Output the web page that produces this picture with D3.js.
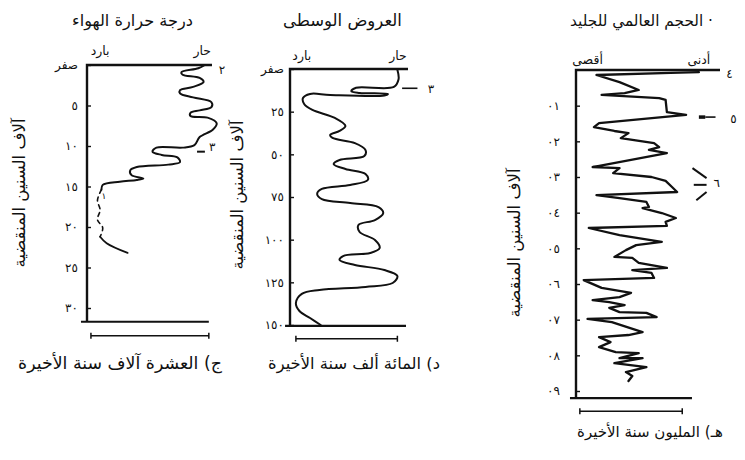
<!DOCTYPE html>
<html>
<head>
<meta charset="utf-8">
<script src="https://cdn.jsdelivr.net/npm/d3@7"></script>
<style>
  body { margin: 0; background: #fff; }
  svg { font-family: "DejaVu Sans", sans-serif; }
</style>
</head>
<body>
<svg id="chart" width="745" height="460"></svg>
<script>
// c) air temperature, last ten thousand years (age in thousand years, level 0 = cold, 100 = warm)
let tempTicks = [0, 5, 10, 15, 20, 25, 30];
let tempTickLabels = ["صفر", "٥", "١٠", "١٥", "٢٠", "٢٥", "٣٠"];
let tempAge = [0, 0.4, 0.9, 1.2, 1.6, 2.1, 2.7, 3.1, 3.5, 4.0, 4.6, 5.2, 5.6, 5.9, 6.3, 6.5, 7.2, 8.0, 8.9, 9.9,
  10.2, 10.2, 10.7, 11.1, 11.4, 12.0, 12.3, 12.6, 13.0, 13.6, 14.0, 14.2, 14.4, 14.8, 15.4];
let tempLevel = [90, 85, 72, 73, 86, 89, 81, 71, 71, 81, 95, 95, 86, 79, 79, 92, 99, 96, 86, 82,
  73, 53, 50, 57, 69, 71, 62, 38, 33, 34, 43, 38, 25, 12, 11];
let tempGapAge = [15.4, 16.7, 17.9, 19.1, 20.1, 21.2];
let tempGapLevel = [11, 8, 10, 8, 12, 10];
let tempLowAge = [21.2, 22.0, 23.2];
let tempLowLevel = [10, 15, 31];

// d) mid latitudes, last hundred thousand years
let midTicks = [0, 25, 50, 75, 100, 125, 150];
let midTickLabels = ["صفر", "٢٥", "٥٠", "٧٥", "١٠٠", "١٢٥", "١٥٠"];
let midAge = [0.5, 6, 10.5, 11, 13, 14, 14.6, 15.5, 15.2, 14.6, 17, 20.5, 24, 28.7, 33.4, 36.3, 38.7, 40.4, 43.4, 47.5,
  51, 53.3, 55.7, 58.6, 61.5, 65, 68, 70.3, 73.2, 76.2, 78.5, 80.9, 84.4, 88.5, 91.4, 95.5, 100.2, 104.9, 107.8, 109.6,
  111.9, 114.8, 117.8, 121.3, 125.4, 127.7, 129.5, 131.8, 137.1, 141.8, 145.9, 150];
let midLevel = [91, 92, 88, 56, 52, 59, 83, 80, 34, 17, 11, 12, 19, 38, 47, 42, 34, 36, 55, 64,
  63, 42, 37, 47, 64, 66, 51, 27, 23, 27, 51, 75, 79, 72, 58, 59, 72, 76, 68, 45,
  42, 55, 80, 91, 87, 64, 25, 10, 5, 8, 17, 26];

// e) global ice volume, last million years (age in thousand years, level 0 = maximum ice)
let iceTicks = [100, 200, 300, 400, 500, 600, 700, 800, 900];
let iceTickLabels = ["٠١", "٠٢", "٠٣", "٠٤", "٠٥", "٠٦", "٠٧", "٠٨", "٠٩"];
let iceAge = [6, 8, 14, 34, 56, 65, 70, 79, 84, 118, 126, 149, 160, 171, 177, 191, 205, 216, 224, 233,
  272, 275, 289, 300, 311, 328, 342, 351, 359, 370, 384, 387, 401, 415, 426, 437, 443, 463, 482, 491,
  505, 524, 527, 541, 555, 561, 569, 583, 589, 611, 625, 637, 645, 651, 659, 667, 679, 681, 693, 698,
  707, 735, 743, 749, 763, 777, 791, 794, 808, 808, 822, 833, 847, 858, 872];
let iceLevel = [96, 74, 16, 34, 49, 38, 20, 65, 70, 71, 86, 18, 14, 30, 41, 35, 61, 65, 57, 71,
  13, 34, 29, 59, 70, 75, 79, 16, 34, 55, 57, 52, 67, 78, 70, 71, 10, 34, 67, 47,
  39, 30, 44, 49, 71, 44, 59, 61, 6, 20, 43, 34, 13, 26, 38, 26, 34, 55, 63, 9,
  28, 52, 41, 18, 27, 18, 31, 49, 34, 52, 30, 55, 39, 44, 41];

let yTitle = "آلاف السنين المنقضية";

let svg = d3.select("#chart");

function addText(g, txt, px, py, size, anchor) {
  return g.append("text")
    .attr("x", px)
    .attr("y", py)
    .attr("direction", "rtl")
    .attr("text-anchor", anchor || "middle")
    .attr("font-size", size)
    .attr("fill", "#111")
    .text(txt);
}

// centred in [x0, x1], font size nudged so the line roughly fills the span
function fitText(g, txt, x0, x1, py, size) {
  let t = addText(g, txt, (x0 + x1) / 2, py, size);
  let w = t.node().getComputedTextLength();
  if (w > 0) {
    let s = Math.max(15, Math.min(18, size * (x1 - x0) / w));
    t.attr("font-size", s);
  }
  return t;
}

function panel(p) {
  let x = d3.scaleLinear().domain([0, 100]).range(p.xRange);
  let y = d3.scaleLinear().domain(p.yDomain).range(p.yRange);
  let g = svg.append("g");

  // frame
  g.append("path")
    .attr("d", d3.line()([[x(0), y(p.bottom)], [x(0), y(0)], [x(p.topEnd), y(0)]]))
    .attr("fill", "none")
    .attr("stroke", "#111")
    .attr("stroke-width", 2.4);
  g.append("line")
    .attr("x1", x(p.bottomFrom)).attr("x2", x(p.bottomTo))
    .attr("y1", y(p.bottom)).attr("y2", y(p.bottom))
    .attr("stroke", "#111")
    .attr("stroke-width", 2.2);

  // ticks
  let axis = d3.axisLeft(y)
    .tickValues(p.ticks)
    .tickFormat((d, i) => p.tickLabels[i])
    .tickSize(-4)
    .tickPadding(p.pad);
  let ag = g.append("g")
    .attr("transform", "translate(" + x(0) + ",0)")
    .call(axis);
  ag.select(".domain").remove();
  ag.selectAll("line").attr("stroke", "#111").attr("stroke-width", 1.4);
  ag.selectAll("text")
    .attr("font-family", "DejaVu Sans")
    .attr("font-size", 12)
    .attr("fill", "#111");

  // headings
  fitText(g, p.title, p.titleSpan[0], p.titleSpan[1], 26, 16);
  addText(g, p.leftWord, x(p.leftAt), p.wordY, 12.5);
  addText(g, p.rightWord, x(p.rightAt), p.wordY, 12.5);

  // time bar and caption
  let barY = y(p.bottom) + p.barGap;
  g.append("path")
    .attr("d", "M" + x(p.barFrom) + "," + (barY - 3) + "V" + (barY + 3) + "M" + x(p.barFrom) + "," + barY +
      "H" + x(p.barTo) + "M" + x(p.barTo) + "," + (barY - 3) + "V" + (barY + 3))
    .attr("fill", "none")
    .attr("stroke", "#111")
    .attr("stroke-width", 1.5);
  fitText(g, p.caption, p.captionSpan[0], p.captionSpan[1], p.captionY, 16);

  // vertical axis title
  g.append("text")
    .attr("transform", "translate(" + p.yTitleX + "," + p.yTitleY + ") rotate(-90)")
    .attr("direction", "rtl")
    .attr("text-anchor", "middle")
    .attr("font-size", 16.5)
    .attr("fill", "#111")
    .text(yTitle);

  return {g: g, x: x, y: y};
}

function curve(pn, ages, levels, opts) {
  let pts = ages.map((a, i) => [levels[i], a]);
  let gen = d3.line()
    .x(d => pn.x(d[0]))
    .y(d => pn.y(d[1]))
    .curve(opts.curve || d3.curveLinear);
  pn.g.append("path")
    .attr("d", gen(pts))
    .attr("fill", "none")
    .attr("stroke", "#111")
    .attr("stroke-width", opts.width || 2)
    .attr("stroke-linejoin", "round")
    .attr("stroke-linecap", "round")
    .attr("stroke-dasharray", opts.dash || null);
}

function mark(pn, lines, label, lx, la, size) {
  for (let l of lines) {
    pn.g.append("line")
      .attr("x1", pn.x(l[0])).attr("y1", pn.y(l[1]))
      .attr("x2", pn.x(l[2])).attr("y2", pn.y(l[3]))
      .attr("stroke", "#111")
      .attr("stroke-width", l[4] || 1.6);
  }
  addText(pn.g, label, pn.x(lx), pn.y(la) + 4, size || 12);
}

// panel c
let pc = panel({
  xRange: [87, 218], yDomain: [0, 30], yRange: [65, 308],
  bottom: 31.7, topEnd: 95.4, bottomFrom: -4.6, bottomTo: 93,
  ticks: tempTicks, tickLabels: tempTickLabels, pad: 9,
  title: "درجة حرارة الهواء", titleSpan: [72, 193],
  leftWord: "بارد", leftAt: 10, rightWord: "حار", rightAt: 88, wordY: 55,
  barGap: 14, barFrom: 3, barTo: 93,
  caption: "ج) العشرة آلاف سنة الأخيرة", captionSpan: [18, 222], captionY: 369,
  yTitleX: 25, yTitleY: 193
});
curve(pc, tempAge, tempLevel, {curve: d3.curveCatmullRom.alpha(0.5), width: 2});
curve(pc, tempGapAge, tempGapLevel, {curve: d3.curveCatmullRom.alpha(0.5), width: 1.6, dash: "4,4"});
curve(pc, tempLowAge, tempLowLevel, {curve: d3.curveCatmullRom.alpha(0.5), width: 1.8});
mark(pc, [], "٢", 103, 0.6);
mark(pc, [[84, 10.7, 90, 10.7, 2]], "٣", 95.5, 10.1);
mark(pc, [], "١", 13, 16, 9);

// panel d
let pd = panel({
  xRange: [290, 408], yDomain: [0, 150], yRange: [69, 325],
  bottom: 150.5, topEnd: 100, bottomFrom: -4.2, bottomTo: 98.3,
  ticks: midTicks, tickLabels: midTickLabels, pad: 6,
  title: "العروض الوسطى", titleSpan: [283, 402],
  leftWord: "بارد", leftAt: 10, rightWord: "حار", rightAt: 91.5, wordY: 60,
  barGap: 13, barFrom: 5, barTo: 91,
  caption: "د) المائة ألف سنة الأخيرة", captionSpan: [268, 440], captionY: 369,
  yTitleX: 243, yTitleY: 195
});
curve(pd, midAge, midLevel, {curve: d3.curveCatmullRom.alpha(0.5), width: 2});
mark(pd, [[95, 11.3, 108, 11.3, 1.6]], "٣", 119.5, 11.6);

// panel e
let pe = panel({
  xRange: [576, 704], yDomain: [0, 900], yRange: [70, 391],
  bottom: 920, topEnd: 112.5, bottomFrom: -4.7, bottomTo: 90.6,
  ticks: iceTicks, tickLabels: iceTickLabels, pad: 16,
  title: "· الحجم العالمي للجليد", titleSpan: [570, 713],
  leftWord: "أقصى", leftAt: 9, rightWord: "أدنى", rightAt: 96, wordY: 64,
  barGap: 13, barFrom: 3, barTo: 83,
  caption: "هـ) المليون سنة الأخيرة", captionSpan: [584, 716], captionY: 437,
  yTitleX: 520, yTitleY: 243
});
curve(pe, iceAge, iceLevel, {width: 2.3});
mark(pe, [], "٤", 120, 10);
mark(pe, [[96, 132, 101, 132, 3.5], [101, 132, 109, 132, 1.6]], "٥", 123, 137);
mark(pe, [[91, 275, 102, 303, 2], [92, 322, 102, 322, 2], [94, 365, 102, 342, 2]], "٦", 110, 318);
</script>
</body>
</html>
